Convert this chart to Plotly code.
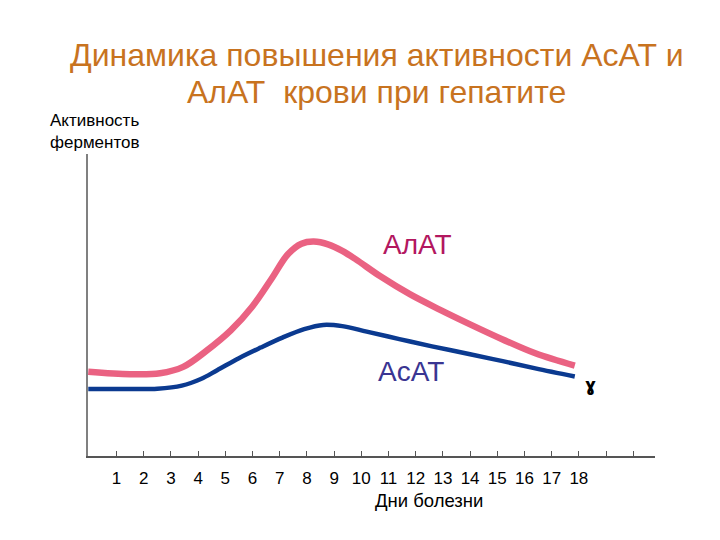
import plotly.graph_objects as go

# Data (day, activity in arbitrary units 0..100)
alat_days = [-0.04, 1.5, 2.6, 3.45, 4.3, 5.2, 6.0, 6.7, 7.3, 7.8, 8.25, 8.8, 9.3, 9.8, 10.7, 11.8, 12.9, 14.0, 15.2, 16.4, 17.85]
alat_vals = [27.9, 27.1, 27.4, 29.5, 34.8, 41.6, 49.6, 58.7, 66.8, 70.3, 71.0, 70.0, 67.9, 65.1, 59.5, 53.5, 48.4, 43.6, 38.6, 34.0, 29.9]

asat_days = [-0.04, 1.5, 2.5, 3.4, 4.1, 4.7, 5.5, 6.3, 7.1, 7.9, 8.6, 9.3, 10.2, 11.4, 12.6, 14.0, 15.2, 16.4, 17.85]
asat_vals = [22.2, 22.2, 22.3, 23.3, 25.5, 28.4, 32.4, 35.9, 39.2, 42.0, 43.4, 43.0, 41.2, 38.7, 36.3, 33.7, 31.4, 29.0, 26.3]

tick_vals = list(range(1, 21))
tick_text = [str(i) for i in range(1, 19)] + ["", ""]

title_lines = ["Динамика повышения активности АсАТ и", "АлАТ  крови при гепатите"]

FONT = "Liberation Sans, Arial, sans-serif"

fig = go.Figure()
fig.add_trace(go.Scatter(x=alat_days, y=alat_vals, mode="lines", line=dict(color="#ea6282", width=6.5, shape="spline", smoothing=1.0), hoverinfo="skip"))
fig.add_trace(go.Scatter(x=asat_days, y=asat_vals, mode="lines", line=dict(color="#0b3a90", width=4.5, shape="spline", smoothing=1.0), hoverinfo="skip"))

annotations = [
    dict(text=title_lines[0], xref="paper", yref="paper", x=0.5097, y=1.3278,
         xanchor="center", yanchor="middle", showarrow=False,
         font=dict(family=FONT, size=32, color="#c8731f")),
    dict(text=title_lines[1], xref="paper", yref="paper", x=0.5097, y=1.2053,
         xanchor="center", yanchor="middle", showarrow=False,
         font=dict(family=FONT, size=32, color="#c8731f")),
    dict(text="Активность<br>ферментов", xref="paper", yref="paper", x=-0.0705, y=1.15,
         xanchor="left", yanchor="top", align="left", showarrow=False,
         font=dict(family=FONT, size=17, color="black")),
    dict(text="Дни болезни", xref="paper", yref="paper", x=0.601, y=-0.146,
         xanchor="center", yanchor="middle", showarrow=False,
         font=dict(family=FONT, size=18.5, color="black")),
    dict(text="АлАТ", x=12.08, y=69.9, xref="x", yref="y", showarrow=False,
         xanchor="center", yanchor="middle", font=dict(family=FONT, size=28, color="#b3175f")),
    dict(text="АсАТ", x=11.81, y=28.1, xref="x", yref="y", showarrow=False,
         xanchor="center", yanchor="middle", font=dict(family=FONT, size=28, color="#3a3592")),
    dict(text="<b>ɣ</b>", x=18.43, y=23.5, xref="x", yref="y", showarrow=False,
         xanchor="center", yanchor="middle", font=dict(family="DejaVu Sans", size=17, color="black")),
]

fig.update_layout(
    width=720, height=540,
    margin=dict(l=80, r=73, t=146, b=92),
    paper_bgcolor="white", plot_bgcolor="white",
    showlegend=False,
    font=dict(family=FONT, color="black"),
    xaxis=dict(range=[-0.05, 20.8], showgrid=False, zeroline=False,
               showline=True, linecolor="#555555", linewidth=1.5,
               ticks="inside", ticklen=5, tickwidth=1, tickcolor="#555555",
               tickvals=tick_vals, ticktext=tick_text, ticklabelstandoff=6,
               tickfont=dict(size=17, color="black")),
    yaxis=dict(range=[0, 100], showgrid=False, zeroline=False,
               showline=True, linecolor="#808080", linewidth=2,
               showticklabels=False, ticks=""),
    annotations=annotations,
)

fig.write_html("out.html")
